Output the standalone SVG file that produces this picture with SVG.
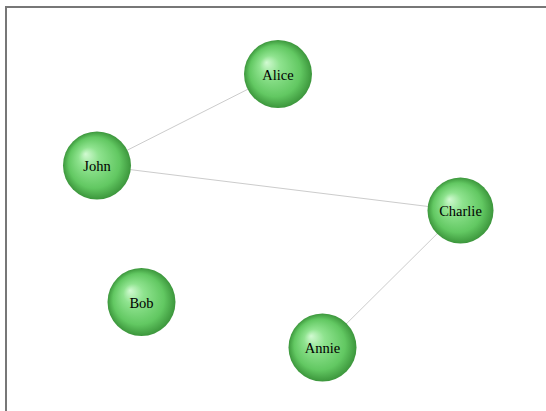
<svg xmlns="http://www.w3.org/2000/svg" width="546" height="411" viewBox="0 0 546 411">
<defs>
<radialGradient id="ball" cx="0.5" cy="0.5" r="0.5" fx="0.33" fy="0.33">
<stop offset="0" stop-color="#d2fad2"/>
<stop offset="0.3" stop-color="#8fe38f"/>
<stop offset="0.75" stop-color="#62c862"/>
<stop offset="1" stop-color="#3c963c"/>
</radialGradient>
</defs>
<style>
.n circle{fill:url(#ball)}
.n text{font-family:"Liberation Serif","Times New Roman",serif;font-size:14.5px;fill:#000;text-anchor:middle;dominant-baseline:central}
.e line{stroke:#cccccc;stroke-width:1}
</style>
<rect width="546" height="411" fill="#fff"/>
<g id="frame" stroke="#777" stroke-width="2" fill="none">
<line x1="5.5" y1="7" x2="546" y2="7"/>
<line x1="6" y1="6" x2="6" y2="411"/>
</g>
<g id="edges" class="e">
<line x1="278" y1="74" x2="97" y2="165.5"/>
<line x1="97" y1="165.5" x2="460.5" y2="210.5"/>
<line x1="460.5" y1="210.5" x2="322.5" y2="347.5"/>
</g>
<g id="Alice" class="n"><circle cx="278" cy="74" r="34"/><text x="278" y="75">Alice</text></g>
<g id="John" class="n"><circle cx="97" cy="165.5" r="34"/><text x="97" y="166">John</text></g>
<g id="Charlie" class="n"><circle cx="460.5" cy="210.5" r="33"/><text x="460.5" y="211">Charlie</text></g>
<g id="Bob" class="n"><circle cx="141.5" cy="302" r="34"/><text x="141.5" y="302.5">Bob</text></g>
<g id="Annie" class="n"><circle cx="322.5" cy="347.5" r="34"/><text x="322.5" y="348">Annie</text></g>
</svg>
